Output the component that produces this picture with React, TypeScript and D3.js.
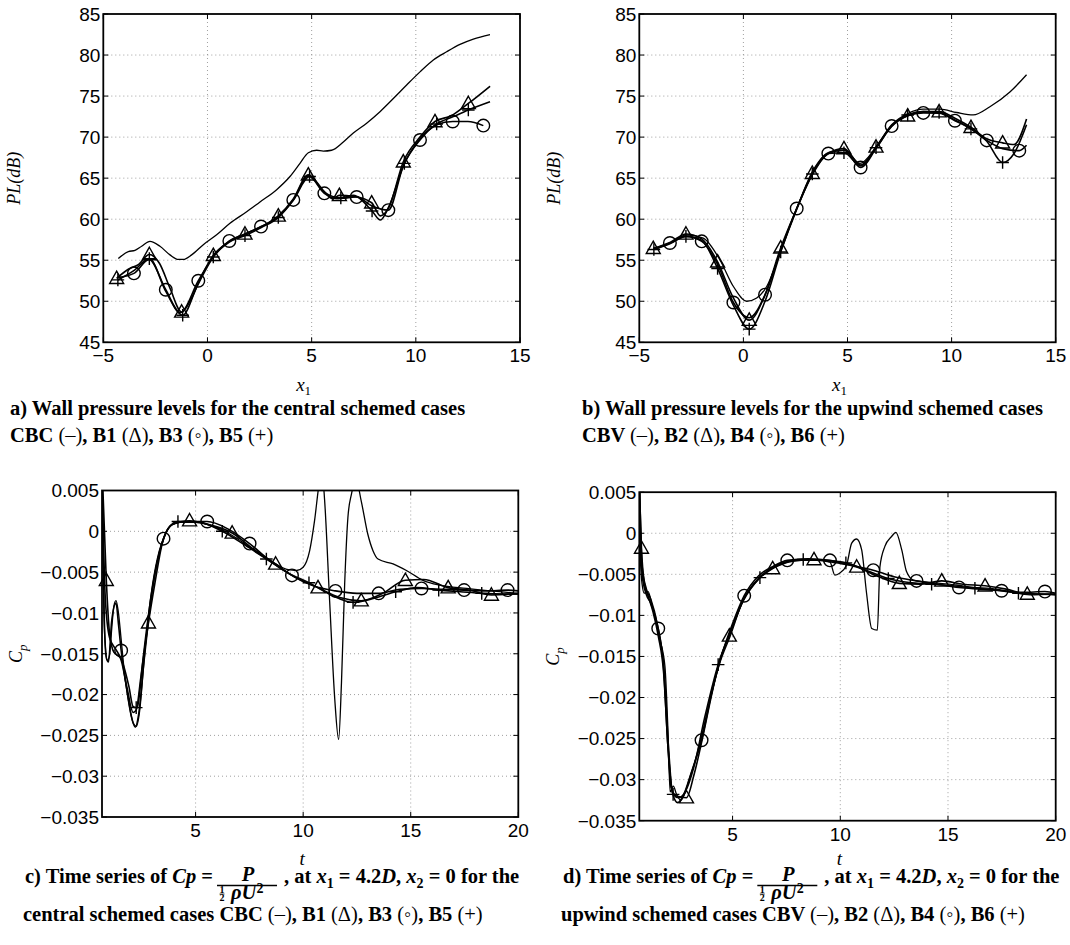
import React, { useLayoutEffect, useRef, useState } from 'react'
import * as d3 from 'd3'

// [x, y] or [x, y, 1] where the trailing 1 marks a point drawn with the series marker
type Pt = number[]

const PL_X_TICKS = [-5, 0, 5, 10, 15]
const PL_X_LABELS = ['\u22125', '0', '5', '10', '15']
const PL_Y_TICKS = [45, 50, 55, 60, 65, 70, 75, 80, 85]
const PL_Y_LABELS = ['45', '50', '55', '60', '65', '70', '75', '80', '85']

const CP_X_TICKS = [5, 10, 15, 20]
const CP_X_LABELS = ['5', '10', '15', '20']
const CP_Y_TICKS = [-0.035, -0.03, -0.025, -0.02, -0.015, -0.01, -0.005, 0, 0.005]
const CP_Y_LABELS = ['\u22120.035', '\u22120.03', '\u22120.025', '\u22120.02', '\u22120.015', '\u22120.01', '\u22120.005', '0', '0.005']

// panel a: central schemes, wall pressure levels
const CBC_A: Pt[] = [[-4.28,55.2],[-3.8,56.05],[-3.48,56.2],[-3.16,56.7],[-2.76,57.3],[-2.28,56.7],[-1.8,55.65],[-1.4,55.1],[-1.16,55.1],[-0.76,55.65],[-0.2,56.9],[0.44,58.1],[1.08,59.5],[1.88,60.9],[2.52,62.1],[3.32,63.6],[3.96,65.2],[4.44,66.8],[4.84,68.1],[5.24,68.4],[5.56,68.3],[5.96,68.4],[6.52,69.4],[7.0,70.5],[7.64,71.7],[8.28,73.1],[8.92,74.7],[9.56,76.35],[10.2,77.95],[10.84,79.4],[11.48,80.4],[12.12,81.3],[12.76,81.95],[13.56,82.5]]
const B1_A: Pt[] = [[-4.36,52.8,1],[-3.8,53.9],[-3.3,54.5],[-2.79,55.7,1],[-2.3,54.6],[-1.8,51.6],[-1.24,48.7,1],[-0.8,50.2],[-0.3,53.0],[0.28,55.6,1],[1.0,57.2],[1.8,58.2,1],[2.6,59.1],[3.4,60.4,1],[4.1,62.4],[4.84,65.4,1],[5.6,63.4],[6.0,62.5],[6.33,62.9,1],[7.0,62.8],[7.88,62.0,1],[8.3,60.4],[8.7,61.4],[9.4,67.0,1],[10.2,70.0],[10.92,71.9,1],[11.7,72.6],[12.52,74.1,1],[13.56,76.2]]
const B3_A: Pt[] = [[-4.3,52.9],[-3.53,53.4,1],[-2.8,55.1],[-2.0,51.4,1],[-1.3,48.6],[-0.44,52.5,1],[0.3,55.5],[1.05,57.35,1],[1.8,58.2],[2.57,59.1,1],[3.4,60.3],[4.12,62.35,1],[4.84,65.3],[5.61,63.15,1],[6.2,62.5],[7.16,62.7,1],[7.9,61.6],[8.68,61.1,1],[9.4,66.5],[10.2,69.65,1],[11.0,71.5],[11.77,71.9,1],[12.5,71.9],[13.24,71.4,1]]
const B5_A: Pt[] = [[-4.3,52.6,1],[-3.5,53.8],[-2.79,55.2,1],[-2.0,51.2],[-1.19,48.3,1],[-0.5,51.8],[0.28,55.4,1],[1.05,57.2],[1.8,58.0,1],[2.6,59.0],[3.4,60.2,1],[4.12,62.3],[4.9,65.2,1],[5.6,63.3],[6.4,62.6,1],[7.0,62.9],[7.9,61.0,1],[8.3,59.9],[8.7,61.5],[9.45,66.8,1],[10.2,69.8],[11.0,71.6,1],[11.8,72.5],[12.52,73.3,1],[13.56,74.3]]

// panel b: upwind schemes, wall pressure levels
const CBV_B: Pt[] = [[-4.25,56.3],[-3.5,57.1],[-2.73,58.1],[-1.93,57.7],[-1.12,55.0],[-0.48,51.8],[0.16,50.0],[0.64,50.4],[1.12,51.8],[1.76,55.85],[2.56,61.3],[3.36,66.0],[4.16,68.2],[4.88,68.4],[5.6,66.8],[6.32,68.6],[7.12,71.5],[7.92,72.9],[8.64,73.4],[9.44,73.4],[10.24,73.0],[11.04,72.7],[11.84,73.7],[12.8,75.5],[13.6,77.6]]
const B2_B: Pt[] = [[-4.33,56.45,1],[-3.5,57.2],[-2.76,58.2,1],[-2.0,57.6],[-1.24,54.8,1],[-0.5,50.5],[0.28,47.7,1],[1.0,50.5],[1.79,56.5,1],[2.56,61.3],[3.31,65.6,1],[4.08,68.0],[4.83,68.6,1],[5.63,66.6],[6.37,68.8,1],[7.12,71.4],[7.89,72.6,1],[8.64,73.1],[9.4,73.1,1],[10.16,72.3],[10.93,71.2,1],[11.69,69.8],[12.45,69.3,1],[13.0,69.1],[13.6,72.2]]
const B4_B: Pt[] = [[-4.3,56.4],[-3.53,57.1,1],[-2.76,57.9],[-2.0,57.3,1],[-1.24,54.5],[-0.48,49.85,1],[0.28,48.0],[1.04,50.8,1],[1.79,56.2],[2.56,61.3,1],[3.31,65.4],[4.08,68.0,1],[4.83,68.4],[5.63,66.3,1],[6.37,68.6],[7.12,71.35,1],[7.89,72.6],[8.64,72.95,1],[9.4,72.9],[10.16,72.0,1],[10.93,71.0],[11.69,69.6,1],[12.45,68.6],[13.25,68.35,1],[13.6,69.0]]
const B6_B: Pt[] = [[-4.3,56.3,1],[-3.53,57.0],[-2.76,57.9,1],[-2.0,57.4],[-1.24,54.0,1],[-0.48,49.5],[0.28,46.6,1],[1.04,50.0],[1.79,56.0,1],[2.56,61.2],[3.31,65.5,1],[4.08,68.0],[4.83,68.1,1],[5.63,66.5],[6.37,68.7,1],[7.12,71.3],[7.89,72.7,1],[8.64,73.1],[9.4,73.0,1],[10.16,72.1],[10.93,71.0,1],[11.69,69.5],[12.45,66.9,1],[13.0,68.0],[13.6,71.5]]

// panel c: central schemes, Cp time series
const CBC_C: Pt[] = [[0.65,0.009],[0.7,-0.004],[0.78,-0.013],[0.9,-0.0158],[1.0,-0.0152],[1.1,-0.012],[1.2,-0.0092],[1.3,-0.0085],[1.4,-0.0097],[1.55,-0.0135],[1.7,-0.0175],[1.9,-0.021],[2.1,-0.0235],[2.25,-0.0239],[2.4,-0.022],[2.6,-0.016],[2.8,-0.0105],[3.0,-0.0065],[3.3,-0.0025],[3.6,-0.0003],[3.9,0.0008],[4.3,0.0011],[5.0,0.0011],[5.6,0.0008],[6.3,0.0001],[7.0,-0.001],[7.8,-0.0025],[8.6,-0.0038],[9.3,-0.0047],[9.7,-0.0048],[10.0,-0.0044],[10.3,-0.0024],[10.53,0.0013],[10.74,0.0058],[10.87,0.0075],[11.0,0.0037],[11.23,-0.0085],[11.47,-0.0206],[11.65,-0.0255],[11.78,-0.0186],[11.93,-0.0064],[12.08,0.0017],[12.24,0.0045],[12.47,0.0062],[12.7,0.0037],[13.0,-0.0003],[13.25,-0.0024],[13.48,-0.0034],[14.18,-0.004],[14.8,-0.0048],[15.57,-0.006],[16.35,-0.0066],[17.6,-0.007],[20,-0.0076]]
const B1_C: Pt[] = [[0.65,0.008],[0.85,-0.006,1],[1.0,-0.0125],[1.2,-0.0148],[1.5,-0.0155],[1.8,-0.019],[2.1,-0.0222],[2.3,-0.0215],[2.55,-0.016],[2.81,-0.0112,1],[3.1,-0.0065],[3.45,-0.0015],[3.9,0.0008],[4.72,0.0013,1],[5.5,0.0009],[6.7,-0.0002,1],[7.7,-0.0022],[8.72,-0.004,1],[9.6,-0.0056],[10.69,-0.0069,1],[11.7,-0.0081],[12.7,-0.0085,1],[13.7,-0.0076],[14.75,-0.006,1],[15.6,-0.0059],[16.74,-0.0069,1],[17.7,-0.0072],[18.75,-0.0078,1],[20,-0.0076]]
const B3_C: Pt[] = [[0.65,0.006],[0.75,-0.01],[0.85,-0.0155],[0.95,-0.016],[1.1,-0.011],[1.3,-0.0088],[1.42,-0.0115],[1.54,-0.0146,1],[1.75,-0.0185],[2.0,-0.0225],[2.2,-0.024],[2.35,-0.0225],[2.6,-0.016],[2.9,-0.009],[3.2,-0.004],[3.51,-0.0009,1],[3.95,0.0009],[4.6,0.0012],[5.54,0.0012,1],[6.5,0.0003],[7.51,-0.0015,1],[8.5,-0.0037],[9.48,-0.0054,1],[10.5,-0.0067],[11.5,-0.0073,1],[12.5,-0.0076],[13.51,-0.0076,1],[14.5,-0.0071],[15.5,-0.007,1],[16.5,-0.0071],[17.48,-0.0072,1],[18.5,-0.0073],[19.5,-0.0072,1],[20,-0.0073]]
const B5_C: Pt[] = [[0.65,0.007],[0.8,-0.008],[1.0,-0.013],[1.3,-0.0145],[1.6,-0.016],[1.9,-0.019],[2.1,-0.0215],[2.24,-0.0216,1],[2.45,-0.018],[2.7,-0.0125],[3.0,-0.0068],[3.4,-0.0018],[3.8,0.0006],[4.18,0.0012,1],[5.2,0.0011],[6.24,0.0,1],[7.3,-0.0017],[8.29,-0.0034,1],[9.3,-0.0051],[10.27,-0.0063,1],[11.3,-0.0078],[12.32,-0.0087,1],[13.3,-0.0082],[14.3,-0.0074,1],[15.3,-0.0069],[16.3,-0.0072,1],[17.3,-0.0074],[18.3,-0.0076,1],[20,-0.0077]]

// panel d: upwind schemes, Cp time series
const CBV_D: Pt[] = [[0.67,0.008],[0.72,-0.003],[0.8,-0.0062],[0.9,-0.0073],[1.08,-0.0071],[1.24,-0.0085],[1.4,-0.0102],[1.63,-0.013],[1.86,-0.0162],[2.0,-0.024],[2.1,-0.0315],[2.25,-0.0308],[2.4,-0.0318],[2.6,-0.0325],[3.02,-0.0297],[3.48,-0.0256],[3.95,-0.0203],[4.41,-0.0158],[4.88,-0.0126],[5.5,-0.0081],[6.27,-0.0053],[7.04,-0.0039],[7.97,-0.0033],[8.9,-0.0033],[9.52,-0.0035],[9.75,-0.0051],[9.95,-0.0049],[10.29,-0.0039],[10.53,-0.0012],[10.76,-0.0007],[10.99,-0.002],[11.22,-0.0073],[11.46,-0.0116],[11.72,-0.0118],[11.84,-0.0041],[12.07,-0.0016],[12.38,-0.0004],[12.58,0.0001],[12.85,-0.002],[13.08,-0.0047],[13.39,-0.0057],[13.85,-0.0059],[14.63,-0.0061],[15.4,-0.0063],[16.18,-0.0066],[16.95,-0.0067],[17.88,-0.0071],[18.8,-0.0075],[20,-0.0074]]
const B2_D: Pt[] = [[0.67,0.006],[0.77,-0.0018,1],[0.9,-0.006],[1.1,-0.0078],[1.3,-0.0095],[1.55,-0.0125],[1.8,-0.017],[2.0,-0.026],[2.15,-0.031],[2.4,-0.032],[2.86,-0.0322,1],[3.2,-0.0295],[3.6,-0.025],[4.0,-0.02],[4.4,-0.0155],[4.85,-0.0125,1],[5.5,-0.0081],[6.2,-0.0056],[6.86,-0.0043,1],[7.8,-0.0034],[8.78,-0.0032,1],[9.8,-0.0036],[10.76,-0.0041,1],[11.7,-0.0052],[12.74,-0.0061,1],[13.7,-0.0062],[14.71,-0.0058,1],[15.7,-0.0062],[16.72,-0.0064,1],[17.7,-0.0068],[18.68,-0.0074,1],[20,-0.0074]]
const B4_D: Pt[] = [[0.67,0.005],[0.8,-0.005],[1.0,-0.0075],[1.2,-0.0085],[1.55,-0.0116,1],[1.8,-0.016],[2.05,-0.027],[2.2,-0.0315],[2.45,-0.0328],[2.7,-0.032],[3.1,-0.029],[3.56,-0.0252,1],[4.0,-0.0198],[4.5,-0.0148],[5.0,-0.011],[5.54,-0.0076,1],[6.2,-0.0052],[6.9,-0.004],[7.54,-0.0033,1],[8.5,-0.0031],[9.52,-0.0033,1],[10.5,-0.0039],[11.53,-0.0045,1],[12.5,-0.0053],[13.54,-0.0058,1],[14.5,-0.0062],[15.51,-0.0066,1],[16.5,-0.0068],[17.49,-0.007,1],[18.5,-0.0072],[19.5,-0.0071,1],[20,-0.0073]]
const B6_D: Pt[] = [[0.67,0.007],[0.8,-0.004],[1.0,-0.0068],[1.2,-0.008],[1.5,-0.011],[1.8,-0.0165],[2.0,-0.026],[2.24,-0.0318,1],[2.5,-0.0322],[2.8,-0.0315],[3.2,-0.0285],[3.7,-0.0225],[4.33,-0.016,1],[4.9,-0.012],[5.5,-0.0082],[6.27,-0.0054,1],[7.2,-0.0038],[8.28,-0.0032,1],[9.3,-0.0033],[10.26,-0.0036,1],[11.2,-0.0045],[12.23,-0.0055,1],[13.2,-0.006],[14.24,-0.0062,1],[15.2,-0.0064],[16.25,-0.0067,1],[17.2,-0.0069],[18.27,-0.0073,1],[19.2,-0.0074],[20,-0.0075]]

type MarkerKind = 'none' | 'tri' | 'circ' | 'plus'
interface Series { data: Pt[]; marker: MarkerKind }
interface Box { left: number; right: number; top: number; bottom: number }

const SANS = 'Liberation Sans, Arial, Helvetica, sans-serif'
const SERIF = 'Liberation Serif, Times New Roman, Times, serif'

function Marker({ kind, cx, cy }: { kind: MarkerKind; cx: number; cy: number }) {
  const s = { fill: 'none', stroke: '#000', strokeWidth: 1.4 }
  if (kind === 'tri') {
    return <path d={`M${cx},${cy - 7.2} L${cx + 7},${cy + 5.2} L${cx - 7},${cy + 5.2} Z`} {...s} />
  }
  if (kind === 'circ') return <circle cx={cx} cy={cy} r={6.3} {...s} />
  if (kind === 'plus') {
    return <path d={`M${cx - 6.3},${cy} H${cx + 6.3} M${cx},${cy - 6.3} V${cy + 6.3}`} {...s} />
  }
  return null
}

function Panel({ id, box, xDomain, yDomain, xTicks, xLabels, yTicks, yLabels, series, yTitle, yTitleX, xTitle, xTitleY }: {
  id: string
  box: Box
  xDomain: number[]
  yDomain: number[]
  xTicks: number[]
  xLabels: string[]
  yTicks: number[]
  yLabels: string[]
  series: Series[]
  yTitle: React.ReactNode
  yTitleX: number
  xTitle: React.ReactNode
  xTitleY: number
}) {
  const x = d3.scaleLinear().domain(xDomain).range([box.left, box.right])
  const y = d3.scaleLinear().domain(yDomain).range([box.bottom, box.top])
  const line = d3.line<Pt>().x(d => x(d[0])).y(d => y(d[1])).curve(d3.curveMonotoneX)
  const tick = 5
  const eps = 1e-9
  const cx = (box.left + box.right) / 2
  const cy = (box.top + box.bottom) / 2

  return (
    <g>
      <defs>
        <clipPath id={`clip-${id}`}>
          <rect x={box.left} y={box.top} width={box.right - box.left} height={box.bottom - box.top} />
        </clipPath>
      </defs>

      {/* dotted grid */}
      {xTicks.filter(t => t > xDomain[0] + eps && t < xDomain[1] - eps).map(t => (
        <line key={`gx${t}`} x1={x(t)} x2={x(t)} y1={box.top} y2={box.bottom} stroke="#888" strokeWidth={0.8} strokeDasharray="1,3" />
      ))}
      {yTicks.filter(t => t > yDomain[0] + eps && t < yDomain[1] - eps).map(t => (
        <line key={`gy${t}`} x1={box.left} x2={box.right} y1={y(t)} y2={y(t)} stroke="#888" strokeWidth={0.8} strokeDasharray="1,3" />
      ))}

      {/* inward ticks on all four sides */}
      {xTicks.map(t => (
        <g key={`tx${t}`} stroke="#000" strokeWidth={1}>
          <line x1={x(t)} x2={x(t)} y1={box.bottom} y2={box.bottom - tick} />
          <line x1={x(t)} x2={x(t)} y1={box.top} y2={box.top + tick} />
        </g>
      ))}
      {yTicks.map(t => (
        <g key={`ty${t}`} stroke="#000" strokeWidth={1}>
          <line x1={box.left} x2={box.left + tick} y1={y(t)} y2={y(t)} />
          <line x1={box.right} x2={box.right - tick} y1={y(t)} y2={y(t)} />
        </g>
      ))}

      <g clipPath={`url(#clip-${id})`}>
        {series.map((s, i) => (
          <path key={i} d={line(s.data) || ''} fill="none" stroke="#000" strokeWidth={i === 0 ? 1.3 : 1.6} strokeLinejoin="round" />
        ))}
      </g>
      {series.map((s, i) =>
        s.data.filter(d => d[2] === 1).map((d, j) => (
          <Marker key={`m${i}-${j}`} kind={s.marker} cx={x(d[0])} cy={y(d[1])} />
        ))
      )}

      <rect x={box.left} y={box.top} width={box.right - box.left} height={box.bottom - box.top} fill="none" stroke="#000" strokeWidth={1.8} />

      {/* tick labels */}
      {xTicks.map((t, i) => (
        <text key={`lx${t}`} x={x(t)} y={box.bottom + 20} textAnchor="middle" fontFamily={SANS} fontSize={19}>{xLabels[i]}</text>
      ))}
      {yTicks.map((t, i) => (
        <text key={`ly${t}`} x={box.left - 3} y={y(t)} dy="0.36em" textAnchor="end" fontFamily={SANS} fontSize={19}>{yLabels[i]}</text>
      ))}

      <text x={cx - 8} y={xTitleY} textAnchor="middle" fontFamily={SERIF} fontSize={19}>{xTitle}</text>
      <text transform={`translate(${yTitleX},${cy}) rotate(-90)`} textAnchor="middle" fontFamily={SERIF} fontSize={18}>{yTitle}</text>
    </g>
  )
}

const PL_TITLE = <tspan fontStyle="italic">PL(dB)</tspan>
const CP_TITLE = <><tspan fontStyle="italic">C</tspan><tspan fontStyle="italic" fontSize={13} dy={5}>p</tspan></>
const X1_TITLE = <><tspan fontStyle="italic">x</tspan><tspan fontSize={13} dy={4}>1</tspan></>
const T_TITLE = <tspan fontStyle="italic">t</tspan>

function LegendLine({ x, y, name, cases }: { x: number; y: number; name: string; cases: string[] }) {
  return (
    <text x={x} y={y} fontFamily={SERIF} fontSize={20.5} fontWeight="bold">
      {name}
      {cases[0]} <tspan fontWeight="normal">(–)</tspan>, {cases[1]} <tspan fontWeight="normal">(Δ)</tspan>, {cases[2]} <tspan fontWeight="normal">(◦)</tspan>, {cases[3]} <tspan fontWeight="normal">(+)</tspan>
    </text>
  )
}

// caption with the Cp = P / (1/2 rho U^2) fraction; the fraction is placed after the measured lead text
function CpCaption({ x0, letter, line2, cases }: { x0: number; letter: string; line2: string; cases: string[] }) {
  const leadRef = useRef<SVGTextElement>(null)
  const [lead, setLead] = useState(189)
  useLayoutEffect(() => {
    if (leadRef.current) setLead(leadRef.current.getComputedTextLength())
  }, [])
  const base = 883
  const barL = x0 + lead + 4
  const barR = barL + 60
  return (
    <g fontFamily={SERIF} fontWeight="bold">
      <text ref={leadRef} x={x0} y={base} fontSize={20.5}>
        {letter}) Time series of <tspan fontStyle="italic">Cp</tspan> =
      </text>
      <text x={barL + 31} y={881} fontSize={20.5} textAnchor="middle" fontStyle="italic">P</text>
      <line x1={barL} x2={barR} y1={885.5} y2={885.5} stroke="#000" strokeWidth={1.3} />
      <text x={barL + 5} y={893} fontSize={10} textAnchor="middle">1</text>
      <line x1={barL + 2.5} x2={barL + 7.5} y1={894} y2={894} stroke="#000" strokeWidth={0.7} />
      <text x={barL + 5} y={901} fontSize={10} textAnchor="middle">2</text>
      <text x={barL + 14} y={899} fontSize={20.5} fontStyle="italic">
        ρU<tspan fontSize={14} fontStyle="normal" dy={-6}>2</tspan>
      </text>
      <text x={barR + 7} y={base} fontSize={20.5}>
        , at <tspan fontStyle="italic">x</tspan><tspan fontSize={14} dy={5}>1</tspan><tspan dy={-5}> = 4.2</tspan><tspan fontStyle="italic">D</tspan>, <tspan fontStyle="italic">x</tspan><tspan fontSize={14} dy={5}>2</tspan><tspan dy={-5}> = 0 for the</tspan>
      </text>
      <LegendLine x={x0 - 2} y={921} name={line2} cases={cases} />
    </g>
  )
}

export default function App() {
  const boxA = { left: 103.3, right: 520, top: 14, bottom: 342.3 }
  const boxB = { left: 639.3, right: 1055.7, top: 14, bottom: 342.3 }
  const boxC = { left: 102, right: 518.3, top: 490.5, bottom: 817 }
  const boxD = { left: 639.3, right: 1055.7, top: 492.2, bottom: 820.7 }

  const casesA = ['CBC', 'B1', 'B3', 'B5']
  const casesB = ['CBV', 'B2', 'B4', 'B6']

  return (
    <svg width={1070} height={945} style={{ position: 'absolute', left: 0, top: 0, background: '#fff' }}>
      <rect width={1070} height={945} fill="#fff" />
      <Panel id="a" box={boxA} xDomain={[-5, 15]} yDomain={[45, 85]}
        xTicks={PL_X_TICKS} xLabels={PL_X_LABELS} yTicks={PL_Y_TICKS} yLabels={PL_Y_LABELS}
        series={[{ data: CBC_A, marker: 'none' }, { data: B1_A, marker: 'tri' }, { data: B3_A, marker: 'circ' }, { data: B5_A, marker: 'plus' }]}
        yTitle={PL_TITLE} yTitleX={20} xTitle={X1_TITLE} xTitleY={391} />
      <Panel id="b" box={boxB} xDomain={[-5, 15]} yDomain={[45, 85]}
        xTicks={PL_X_TICKS} xLabels={PL_X_LABELS} yTicks={PL_Y_TICKS} yLabels={PL_Y_LABELS}
        series={[{ data: CBV_B, marker: 'none' }, { data: B2_B, marker: 'tri' }, { data: B4_B, marker: 'circ' }, { data: B6_B, marker: 'plus' }]}
        yTitle={PL_TITLE} yTitleX={560} xTitle={X1_TITLE} xTitleY={391} />
      <Panel id="c" box={boxC} xDomain={[0.65, 20]} yDomain={[-0.035, 0.005]}
        xTicks={CP_X_TICKS} xLabels={CP_X_LABELS} yTicks={CP_Y_TICKS} yLabels={CP_Y_LABELS}
        series={[{ data: CBC_C, marker: 'none' }, { data: B1_C, marker: 'tri' }, { data: B3_C, marker: 'circ' }, { data: B5_C, marker: 'plus' }]}
        yTitle={CP_TITLE} yTitleX={22} xTitle={T_TITLE} xTitleY={865} />
      <Panel id="d" box={boxD} xDomain={[0.67, 20]} yDomain={[-0.035, 0.005]}
        xTicks={CP_X_TICKS} xLabels={CP_X_LABELS} yTicks={CP_Y_TICKS} yLabels={CP_Y_LABELS}
        series={[{ data: CBV_D, marker: 'none' }, { data: B2_D, marker: 'tri' }, { data: B4_D, marker: 'circ' }, { data: B6_D, marker: 'plus' }]}
        yTitle={CP_TITLE} yTitleX={559} xTitle={T_TITLE} xTitleY={865} />

      <g fontFamily={SERIF}>
        <text x={10} y={415} fontSize={20.5} fontWeight="bold">a) Wall pressure levels for the central schemed cases</text>
        <LegendLine x={10} y={442} name="" cases={casesA} />
        <text x={582} y={415} fontSize={20.5} fontWeight="bold">b) Wall pressure levels for the upwind schemed cases</text>
        <LegendLine x={582} y={442} name="" cases={casesB} />
      </g>

      <CpCaption x0={25} letter="c" line2="central schemed cases " cases={casesA} />
      <CpCaption x0={563} letter="d" line2="upwind schemed cases " cases={casesB} />
    </svg>
  )
}
